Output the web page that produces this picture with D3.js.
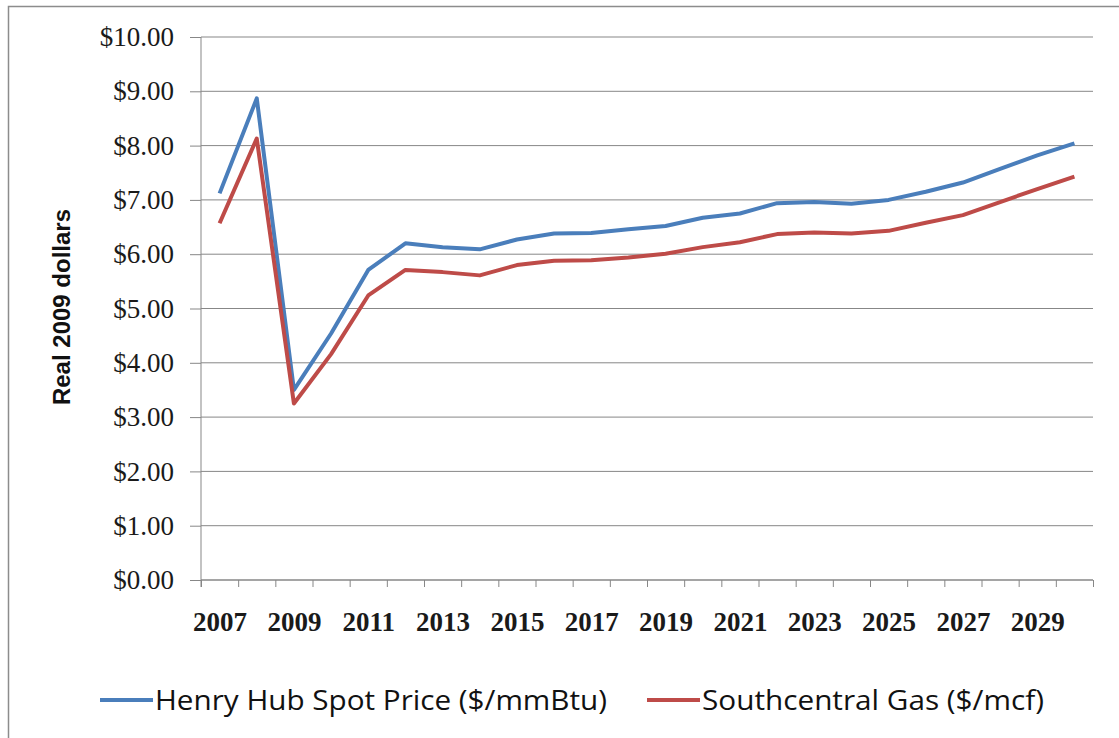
<!DOCTYPE html>
<html>
<head>
<meta charset="utf-8">
<script src="https://cdn.jsdelivr.net/npm/d3@7"></script>
<style>
  body { margin: 0; background: #fff; }
  svg { display: block; }
</style>
</head>
<body>
<div id="chart"></div>
<script>
// years on the category axis
const years = d3.range(2007, 2031);
// Henry Hub spot price, real 2009 $/mmBtu
const henryHub = [7.12, 8.87, 3.50, 4.54, 5.71, 6.20, 6.13, 6.09, 6.27, 6.38, 6.39, 6.46, 6.52, 6.67, 6.75, 6.94, 6.96, 6.93, 7.00, 7.15, 7.32, 7.57, 7.82, 8.04];
// Southcentral gas price, real 2009 $/mcf
const southcentral = [6.57, 8.13, 3.25, 4.16, 5.24, 5.71, 5.67, 5.61, 5.80, 5.88, 5.89, 5.94, 6.01, 6.13, 6.22, 6.37, 6.40, 6.38, 6.43, 6.58, 6.72, 6.96, 7.20, 7.43];
const yTicks = [0, 1, 2, 3, 4, 5, 6, 7, 8, 9, 10];
const xLabelYears = years.filter(y => y % 2 === 1);

const seriesList = [
    {name: "Henry Hub Spot Price ($/mmBtu)", values: henryHub, color: "#4a7ebb"},
    {name: "Southcentral Gas ($/mcf)", values: southcentral, color: "#be4b48"}
];

const size = {width: 1119, height: 738};
const plot = {left: 201, right: 1093, top: 37, bottom: 580};
const gridColor = "#878787";

const svg = d3.select("#chart").append("svg")
    .attr("width", size.width)
    .attr("height", size.height);

// outer chart frame (only left and top edge visible)
svg.append("rect")
    .attr("x", 8.5).attr("y", 6.5)
    .attr("width", 1200).attr("height", 800)
    .attr("fill", "white")
    .attr("stroke", "#8c8c8c")
    .attr("stroke-width", 1.5);

const xScale = d3.scaleLinear().domain([2006.5, 2030.5]).range([plot.left, plot.right]);
const yScale = d3.scaleLinear().domain([0, 10]).range([plot.bottom, plot.top]);

// horizontal gridlines
svg.append("g")
    .selectAll("line")
    .data(yTicks)
    .join("line")
    .attr("x1", plot.left).attr("x2", plot.right)
    .attr("y1", d => yScale(d)).attr("y2", d => yScale(d))
    .attr("stroke", gridColor)
    .attr("stroke-width", 1);

// y axis
const yAxisG = svg.append("g")
    .attr("transform", "translate(" + plot.left + ",0)")
    .call(d3.axisLeft(yScale)
        .tickValues(yTicks)
        .tickSize(11)
        .tickPadding(16)
        .tickFormat(d => "$" + d.toFixed(2)));
yAxisG.select(".domain").remove();
yAxisG.append("line")
    .attr("x1", 0).attr("x2", 0)
    .attr("y1", plot.top).attr("y2", plot.bottom + 7)
    .attr("stroke", gridColor);
yAxisG.selectAll(".tick line").attr("stroke", gridColor);
yAxisG.selectAll(".tick text")
    .attr("fill", "#1a1a1a")
    .style("font-family", "'Liberation Serif', 'DejaVu Serif', serif")
    .style("font-size", "27px");

// x axis: tick marks between categories
const xAxisG = svg.append("g")
    .attr("transform", "translate(0," + plot.bottom + ")")
    .call(d3.axisBottom(xScale)
        .tickValues(d3.range(2006.5, 2031, 1))
        .tickSize(7)
        .tickFormat(""));
xAxisG.select(".domain").attr("stroke", gridColor).attr("d", "M" + plot.left + ",0H" + plot.right);
xAxisG.selectAll(".tick line").attr("stroke", gridColor);

// x labels every second year
const xLabelG = svg.append("g")
    .attr("transform", "translate(0," + plot.bottom + ")")
    .call(d3.axisBottom(xScale)
        .tickValues(xLabelYears)
        .tickSize(0)
        .tickPadding(32)
        .tickFormat(d3.format("d")));
xLabelG.select(".domain").remove();
xLabelG.selectAll(".tick text")
    .attr("fill", "#1a1a1a")
    .style("font-family", "'Liberation Serif', 'DejaVu Serif', serif")
    .style("font-size", "27px")
    .style("font-weight", "bold");

// y axis title
svg.append("text")
    .attr("transform", "translate(61,307) rotate(-90)")
    .attr("text-anchor", "middle")
    .attr("dominant-baseline", "central")
    .style("font-family", "'Liberation Sans', Arial, sans-serif")
    .style("font-size", "24px")
    .style("font-weight", "bold")
    .attr("fill", "#111")
    .text("Real 2009 dollars");

// series lines
const line = d3.line()
    .x((d, i) => xScale(years[i]))
    .y(d => yScale(d));

svg.append("g")
    .selectAll("path")
    .data(seriesList)
    .join("path")
    .attr("d", s => line(s.values))
    .attr("fill", "none")
    .attr("stroke", s => s.color)
    .attr("stroke-width", 4)
    .attr("stroke-linejoin", "round");

// legend
const legendItems = [
    {x: 100, textWidth: 452},
    {x: 647, textWidth: 342}
];
const legendG = svg.append("g").attr("transform", "translate(0,700)");
seriesList.forEach((s, i) => {
    const li = legendItems[i];
    legendG.append("line")
        .attr("x1", li.x).attr("x2", li.x + 53)
        .attr("y1", 0).attr("y2", 0)
        .attr("stroke", s.color)
        .attr("stroke-width", 4);
    legendG.append("text")
        .attr("x", li.x + 55)
        .attr("y", 10)
        .attr("textLength", li.textWidth)
        .attr("lengthAdjust", "spacingAndGlyphs")
        .style("font-family", "'Open Sans', 'Liberation Sans', sans-serif")
        .style("font-size", "27px")
        .attr("fill", "#111")
        .text(s.name);
});
</script>
</body>
</html>
